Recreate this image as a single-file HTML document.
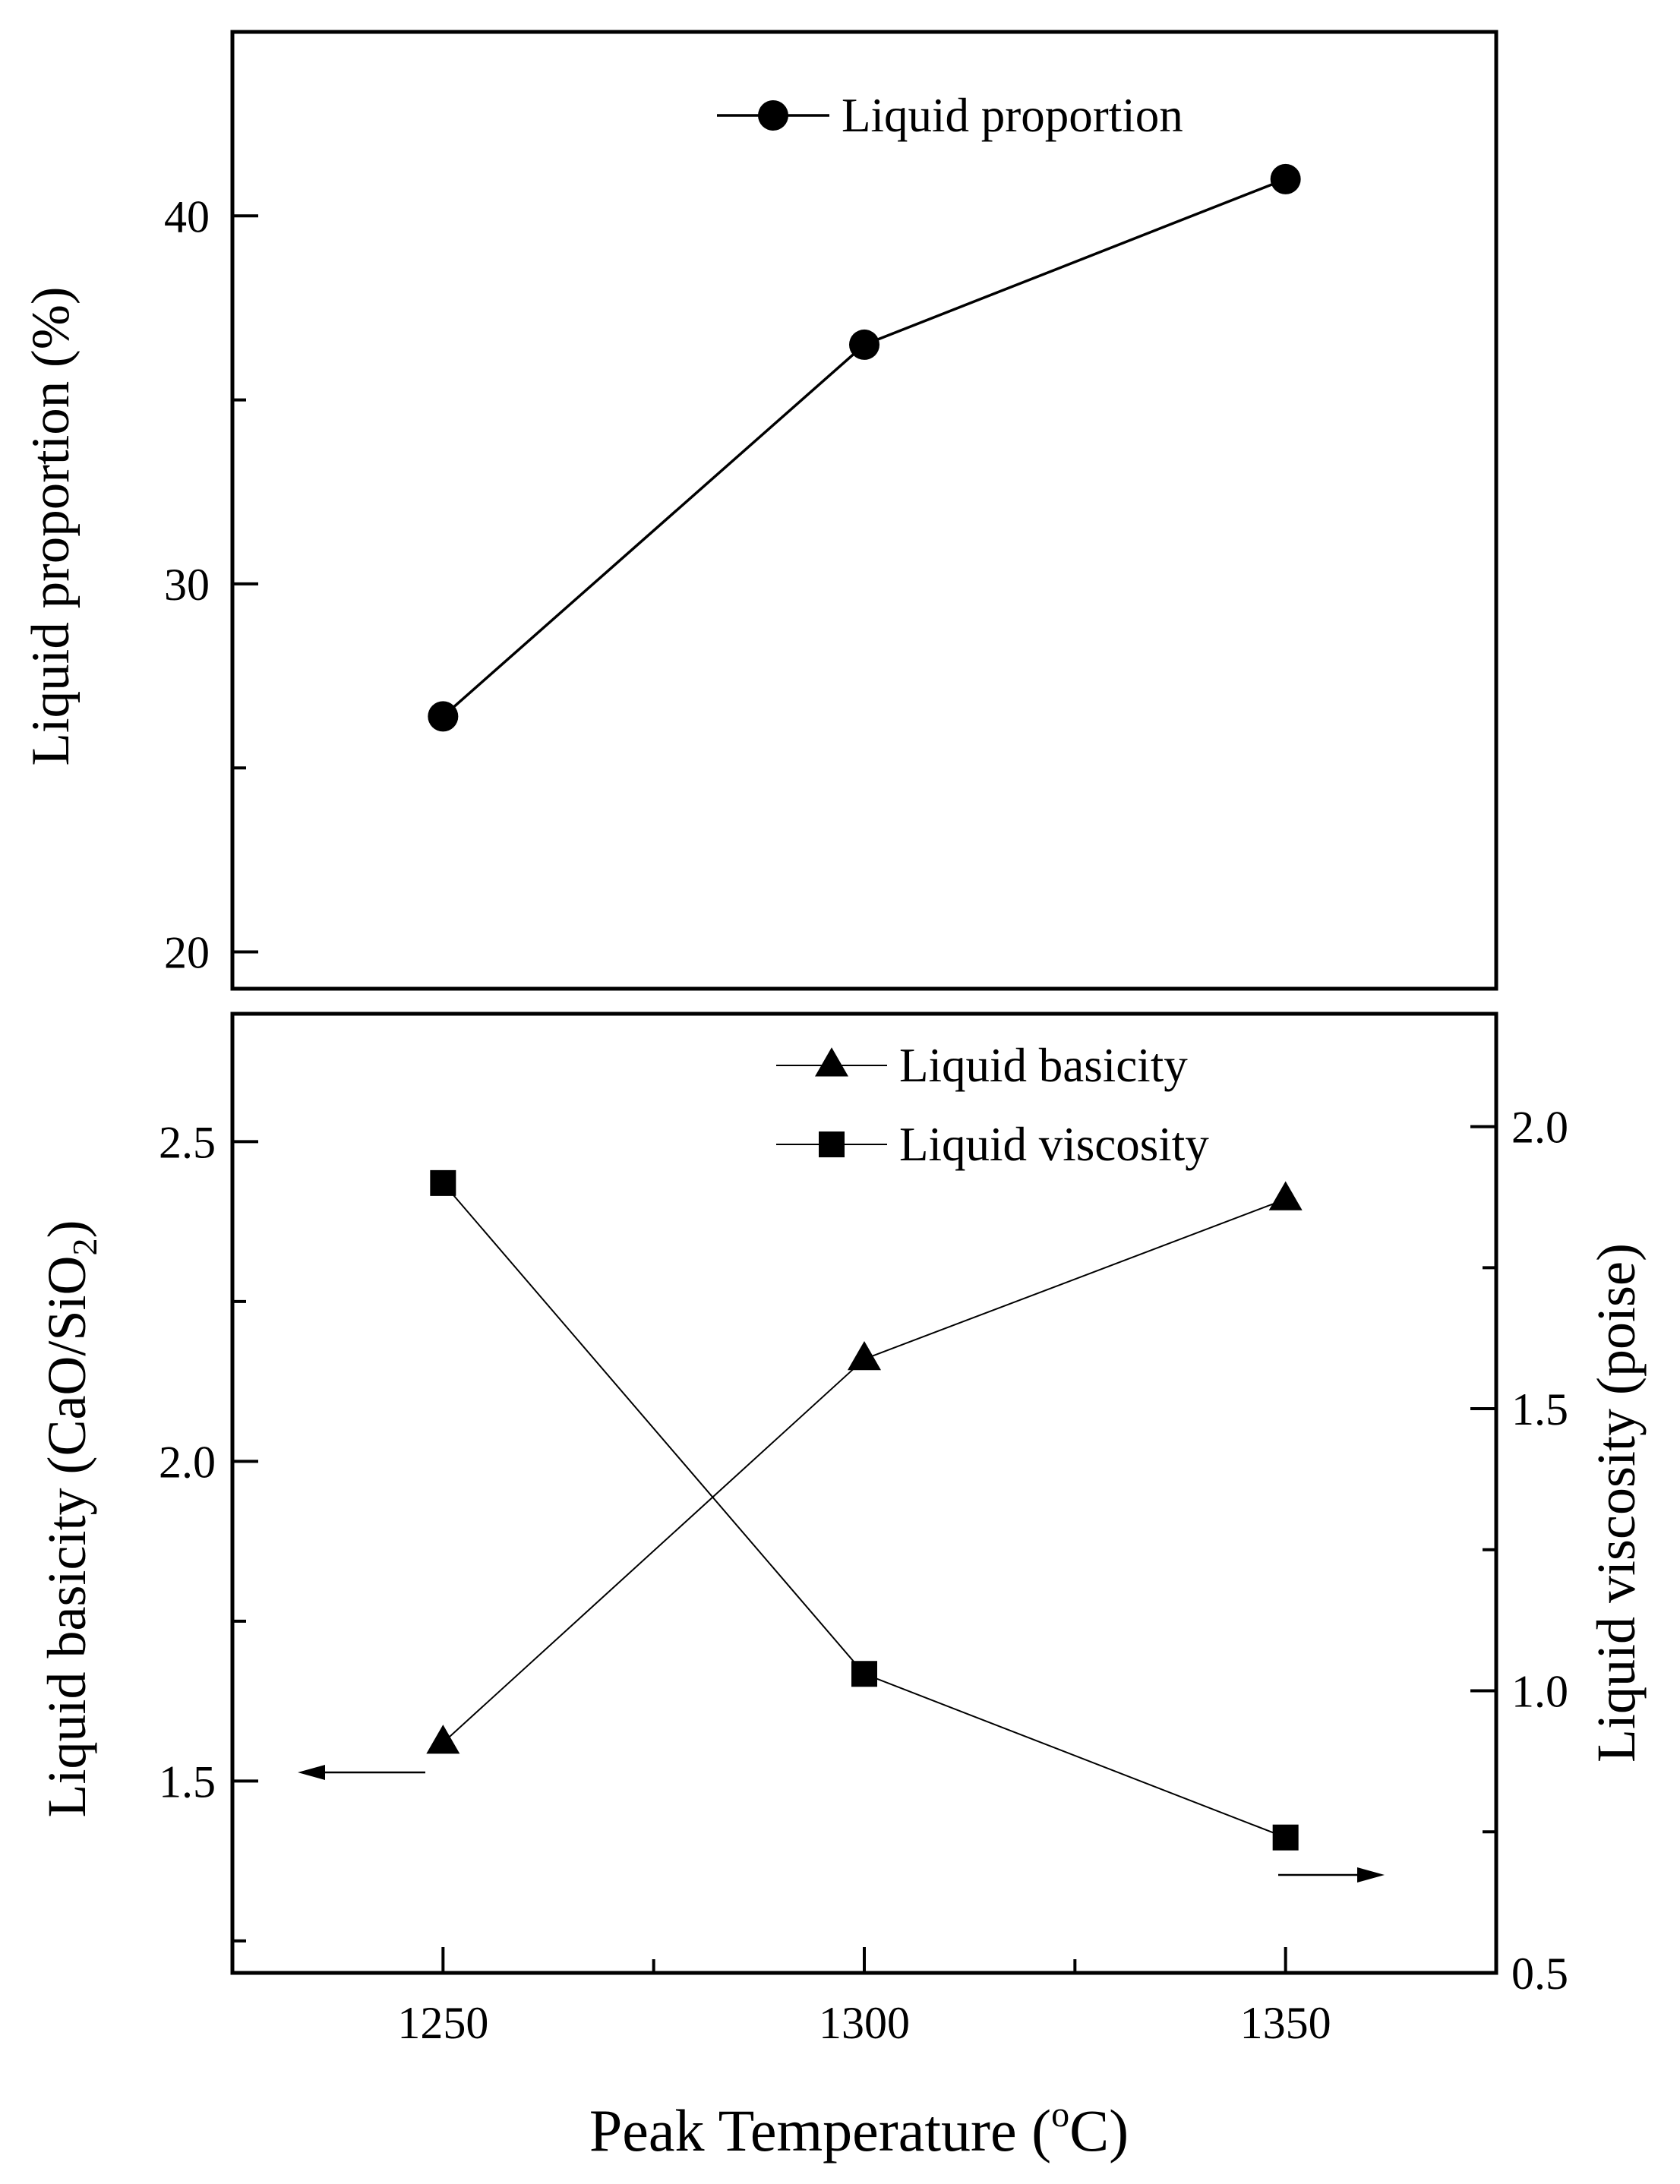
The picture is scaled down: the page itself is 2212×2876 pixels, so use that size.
<!DOCTYPE html>
<html><head><meta charset="utf-8"><style>
html,body{margin:0;padding:0;background:#fff;}
svg{display:block;font-family:"Liberation Serif","Times New Roman",serif;}
</style></head><body>
<svg id="chart" width="2212" height="2876" viewBox="0 0 2212 2876" xmlns="http://www.w3.org/2000/svg">
<rect x="0" y="0" width="2212" height="2876" fill="#fff"/>
<g id="topPanel"></g>
<g id="botPanel"></g>
<text x="0" y="0" font-size="71" text-anchor="middle" transform="translate(90,693) rotate(-90)">Liquid proportion (%)</text>
<text x="0" y="0" font-size="72" text-anchor="middle" transform="translate(112,2000) rotate(-90)">Liquid basicity (CaO/SiO<tspan font-size="46" dy="15">2</tspan><tspan dy="-15">)</tspan></text>
<text x="0" y="0" font-size="72" text-anchor="middle" transform="translate(2152,1979) rotate(-90)">Liquid viscosity (poise)</text>
<text x="1131" y="2832" font-size="78" text-anchor="middle">Peak Temperature (<tspan font-size="48" dy="-32">o</tspan><tspan dy="32">C)</tspan></text>
</svg>
<script>
const temps = [1250, 1300, 1350];
const liquidProportion = [26.4, 36.5, 41.0];
const liquidBasicity = [1.56, 2.16, 2.41];
const liquidViscosity = [1.90, 1.03, 0.74];
const xTicks = [1250, 1300, 1350];
const xMinor = [1275, 1325];
const topTicks = [20, 30, 40];
const topMinor = [25, 35];
const leftTicks = [1.5, 2.0, 2.5];
const leftMinor = [1.25, 1.75, 2.25];
const rightTicks = [0.5, 1.0, 1.5, 2.0];
const rightMinor = [0.75, 1.25, 1.75];

const NS = "http://www.w3.org/2000/svg";
const X0 = 306, X1 = 1970;
const x = v => X0 + (v - 1225) / 150 * (X1 - X0);
const TY0 = 42, TY1 = 1302;
const yTop = v => TY1 - (v - 19) / 26 * (TY1 - TY0);
const BY0 = 1335, BY1 = 2598;
const yL = v => BY1 - (v - 1.2) / 1.5 * (BY1 - BY0);
const yR = v => BY1 - (v - 0.5) / 1.7 * (BY1 - BY0);

function mk(parent, tag, attrs) {
  const e = document.createElementNS(NS, tag);
  for (const k in attrs) e.setAttribute(k, attrs[k]);
  parent.appendChild(e);
  return e;
}
const topG = document.getElementById('topPanel');
const botG = document.getElementById('botPanel');

let f = mk(topG, 'rect', {x: X0, y: TY0, width: X1 - X0, height: TY1 - TY0, fill: 'none', stroke: '#000', 'stroke-width': 5});


f = mk(botG, 'rect', {x: X0, y: BY0, width: X1 - X0, height: BY1 - BY0, fill: 'none', stroke: '#000', 'stroke-width': 5});



topTicks.forEach(v => {
  const t = mk(topG, 'line', {x1: X0, x2: X0 + 34, y1: yTop(v), y2: yTop(v), stroke: '#000', 'stroke-width': 4});
  
  
  const l = mk(topG, 'text', {x: 276, y: yTop(v) + 21, 'font-size': 60, 'text-anchor': 'end'});
  l.textContent = v;
  
  
});
topMinor.forEach(v => {
  const t = mk(topG, 'line', {x1: X0, x2: X0 + 18, y1: yTop(v), y2: yTop(v), stroke: '#000', 'stroke-width': 4});
  
  
});
leftTicks.forEach(v => {
  const t = mk(botG, 'line', {x1: X0, x2: X0 + 34, y1: yL(v), y2: yL(v), stroke: '#000', 'stroke-width': 4});
  
  
  const l = mk(botG, 'text', {x: 284, y: yL(v) + 21, 'font-size': 60, 'text-anchor': 'end'});
  l.textContent = v.toFixed(1);
  
  
});
leftMinor.forEach(v => {
  const t = mk(botG, 'line', {x1: X0, x2: X0 + 18, y1: yL(v), y2: yL(v), stroke: '#000', 'stroke-width': 4});
  
  
});
rightTicks.forEach(v => {
  const t = mk(botG, 'line', {x1: X1 - 34, x2: X1, y1: yR(v), y2: yR(v), stroke: '#000', 'stroke-width': 4});
  
  
  const l = mk(botG, 'text', {x: 1990, y: yR(v) + 21, 'font-size': 60, 'text-anchor': 'start'});
  l.textContent = v.toFixed(1);
  
  
});
rightMinor.forEach(v => {
  const t = mk(botG, 'line', {x1: X1 - 18, x2: X1, y1: yR(v), y2: yR(v), stroke: '#000', 'stroke-width': 4});
  
  
});
xTicks.forEach(v => {
  const t = mk(botG, 'line', {x1: x(v), x2: x(v), y1: BY1, y2: BY1 - 34, stroke: '#000', 'stroke-width': 4});
  
  
  const l = mk(botG, 'text', {x: x(v), y: 2684, 'font-size': 60, 'text-anchor': 'middle'});
  l.textContent = v;
  
  
});
xMinor.forEach(v => {
  const t = mk(botG, 'line', {x1: x(v), x2: x(v), y1: BY1, y2: BY1 - 18, stroke: '#000', 'stroke-width': 4});
  
  
});

let p = mk(topG, 'polyline', {points: temps.map((t, i) => x(t) + ',' + yTop(liquidProportion[i])).join(' '), fill: 'none', stroke: '#000', 'stroke-width': 3.5});


temps.forEach((t, i) => {
  const c = mk(topG, 'circle', {cx: x(t), cy: yTop(liquidProportion[i]), r: 20, fill: '#000'});
  
  
});
function tri(g, cx, cy, s) {
  const h = s * 0.87;
  return mk(g, 'polygon', {points: `${cx},${cy - h * 0.62} ${cx - s / 2},${cy + h * 0.38} ${cx + s / 2},${cy + h * 0.38}`, fill: '#000'});
}
p = mk(botG, 'polyline', {points: temps.map((t, i) => x(t) + ',' + yL(liquidBasicity[i])).join(' '), fill: 'none', stroke: '#000', 'stroke-width': 2});


temps.forEach((t, i) => {
  const m = tri(botG, x(t), yL(liquidBasicity[i]), 44);
  
  
});
p = mk(botG, 'polyline', {points: temps.map((t, i) => x(t) + ',' + yR(liquidViscosity[i])).join(' '), fill: 'none', stroke: '#000', 'stroke-width': 2});


temps.forEach((t, i) => {
  const m = mk(botG, 'rect', {x: x(t) - 17, y: yR(liquidViscosity[i]) - 17, width: 34, height: 34, fill: '#000'});
  
  
});

let lg = mk(topG, 'g', {});


mk(lg, 'line', {x1: 944, x2: 1092, y1: 152, y2: 152, stroke: '#000', 'stroke-width': 3.5});
mk(lg, 'circle', {cx: 1018, cy: 152, r: 20, fill: '#000'});
let tx = mk(lg, 'text', {x: 1108, y: 173, 'font-size': 63});
tx.textContent = 'Liquid proportion';

lg = mk(botG, 'g', {});


mk(lg, 'line', {x1: 1022, x2: 1168, y1: 1403, y2: 1403, stroke: '#000', 'stroke-width': 2});
tri(lg, 1095, 1403, 44);
tx = mk(lg, 'text', {x: 1184, y: 1424, 'font-size': 63});
tx.textContent = 'Liquid basicity';

lg = mk(botG, 'g', {});


mk(lg, 'line', {x1: 1022, x2: 1168, y1: 1507, y2: 1507, stroke: '#000', 'stroke-width': 2});
mk(lg, 'rect', {x: 1078, y: 1490, width: 34, height: 34, fill: '#000'});
tx = mk(lg, 'text', {x: 1184, y: 1528, 'font-size': 63});
tx.textContent = 'Liquid viscosity';

let a = mk(botG, 'g', {});


mk(a, 'line', {x1: 560, x2: 420, y1: 2334, y2: 2334, stroke: '#000', 'stroke-width': 2.5});
mk(a, 'polygon', {points: '392,2334 428,2324 428,2344', fill: '#000'});
a = mk(botG, 'g', {});


mk(a, 'line', {x1: 1683, x2: 1795, y1: 2469, y2: 2469, stroke: '#000', 'stroke-width': 2.5});
mk(a, 'polygon', {points: '1823,2469 1787,2459 1787,2479', fill: '#000'});
</script>
</body></html>
